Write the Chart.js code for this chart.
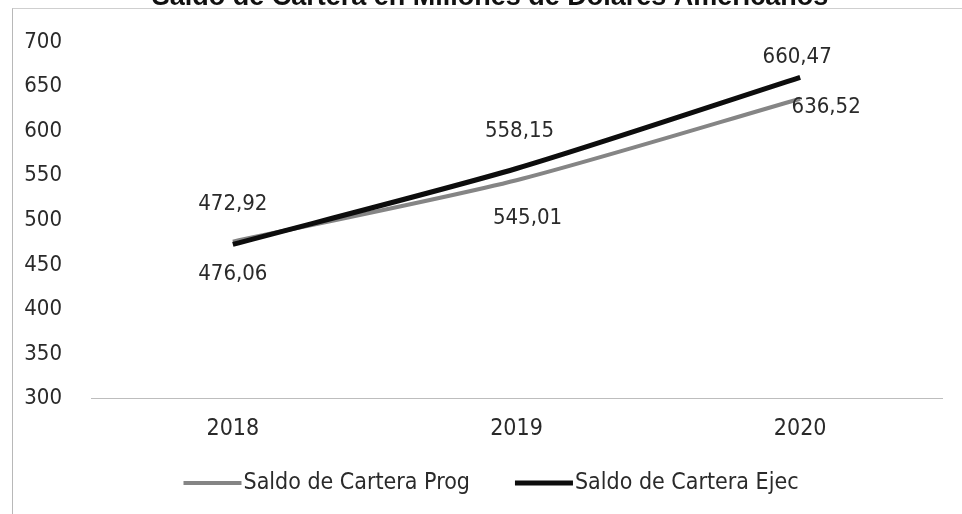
<!DOCTYPE html>
<html>
<head>
<meta charset="utf-8">
<script src="https://cdn.jsdelivr.net/npm/chart.js@4"></script>
<style>
  html, body { margin: 0; padding: 0; background: #fff; }
  #wrap { position: relative; width: 962px; height: 514px; }
  #frame { position: absolute; left: 12px; top: 8px; right: 0; bottom: 0;
           border-left: 1px solid #b8b8b8; border-top: 1px solid #cfcfcf; }
  canvas { position: absolute; left: 0; top: 0; }
</style>
</head>
<body>
<div id="wrap">
  <div id="frame"></div>
  <canvas id="chart" width="962" height="514"></canvas>
</div>
<script>
const years = ['2018', '2019', '2020'];
const saldoProg = [476.06, 545.01, 636.52];
const saldoEjec = [472.92, 558.15, 660.47];
const yTicks = [300, 350, 400, 450, 500, 550, 600, 650, 700];

const titleText = 'Saldo de Cartera en Millones de Dólares Americanos';
const fontFamily = '"DejaVu Sans Condensed", "DejaVu Sans", sans-serif';

// Etiquetas de valor: Ejec encima, Prog debajo (desplazamiento respecto al punto)
const labelPlacement = {
    0: [{ dx: 0, dy: -40 }, { dx: 3, dy: -37 }, { dx: -3, dy: -20 }],
    1: [{ dx: 0, dy: 33 }, { dx: 11, dy: 38 }, { dx: 26, dy: 9 }]
};

function fmt(v) {
    return v.toFixed(2).replace('.', ',');
}

const valueLabels = {
    id: 'valueLabels',
    afterDatasetsDraw(chart) {
        const ctx = chart.ctx;
        ctx.save();
        ctx.font = '22px ' + fontFamily;
        ctx.fillStyle = '#2a2a2a';
        ctx.textAlign = 'center';
        ctx.textBaseline = 'middle';
        chart.data.datasets.forEach((ds, i) => {
            const meta = chart.getDatasetMeta(i);
            meta.data.forEach((pt, j) => {
                const off = labelPlacement[i][j];
                ctx.fillText(fmt(ds.data[j]), pt.x + off.dx, pt.y + off.dy);
            });
        });
        ctx.restore();
    }
};

// Leyenda: muestra de linea pegada al texto
const lineLegend = {
    id: 'lineLegend',
    afterDraw(chart) {
        const ctx = chart.ctx;
        const items = chart.data.datasets.slice().reverse();
        const sample = 58, gap = 2, between = 45;
        ctx.save();
        ctx.font = '23px ' + fontFamily;
        const widths = items.map(ds => sample + gap + ctx.measureText(ds.label).width);
        const total = widths.reduce((a, b) => a + b, 0) + between * (items.length - 1);
        let x = chart.width / 2 + 10 - total / 2;
        const y = 483;
        items.forEach((ds, i) => {
            ctx.strokeStyle = ds.borderColor;
            ctx.lineWidth = ds.borderWidth;
            ctx.beginPath();
            ctx.moveTo(x, y);
            ctx.lineTo(x + sample, y);
            ctx.stroke();
            ctx.fillStyle = '#2a2a2a';
            ctx.textAlign = 'left';
            ctx.textBaseline = 'middle';
            ctx.fillText(ds.label, x + sample + gap, y);
            x += widths[i] + between;
        });
        ctx.restore();
    }
};

// Titulo cortado en la parte superior (escaneo)
const cutTitle = {
    id: 'cutTitle',
    afterDraw(chart) {
        const ctx = chart.ctx;
        ctx.save();
        ctx.font = 'bold 27px "Liberation Sans", Arial, sans-serif';
        ctx.fillStyle = '#111';
        ctx.textAlign = 'center';
        ctx.textBaseline = 'alphabetic';
        ctx.fillText(titleText, 490, 5);
        ctx.restore();
    }
};

new Chart(document.getElementById('chart'), {
    type: 'line',
    data: {
        labels: years,
        datasets: [{
            label: 'Saldo de Cartera Ejec',
            data: saldoEjec,
            borderColor: '#0d0d0d',
            backgroundColor: '#0d0d0d',
            borderWidth: 5,
            pointRadius: 0,
            tension: 0.25
        }, {
            label: 'Saldo de Cartera Prog',
            data: saldoProg,
            borderColor: '#858585',
            backgroundColor: '#858585',
            borderWidth: 4,
            pointRadius: 0,
            tension: 0.25
        }]
    },
    options: {
        responsive: false,
        animation: false,
        layout: {
            padding: { left: 0, right: 20, top: 23, bottom: 54 }
        },
        plugins: {
            legend: { display: false },
            tooltip: { enabled: false }
        },
        scales: {
            x: {
                offset: true,
                grid: { display: false, drawTicks: false },
                border: { display: true, color: '#bdbdbd', width: 1 },
                ticks: {
                    color: '#2a2a2a',
                    padding: 17,
                    font: { family: fontFamily, size: 23 }
                }
            },
            y: {
                min: 300,
                max: 700,
                grid: { display: false, drawTicks: false },
                border: { display: false },
                afterBuildTicks(scale) {
                    scale.ticks = yTicks.map(v => ({ value: v }));
                },
                afterFit(scale) {
                    scale.width = 91;
                },
                ticks: {
                    color: '#2a2a2a',
                    padding: 29,
                    font: { family: fontFamily, size: 22 }
                }
            }
        }
    },
    plugins: [valueLabels, lineLegend, cutTitle]
});
</script>
</body>
</html>
